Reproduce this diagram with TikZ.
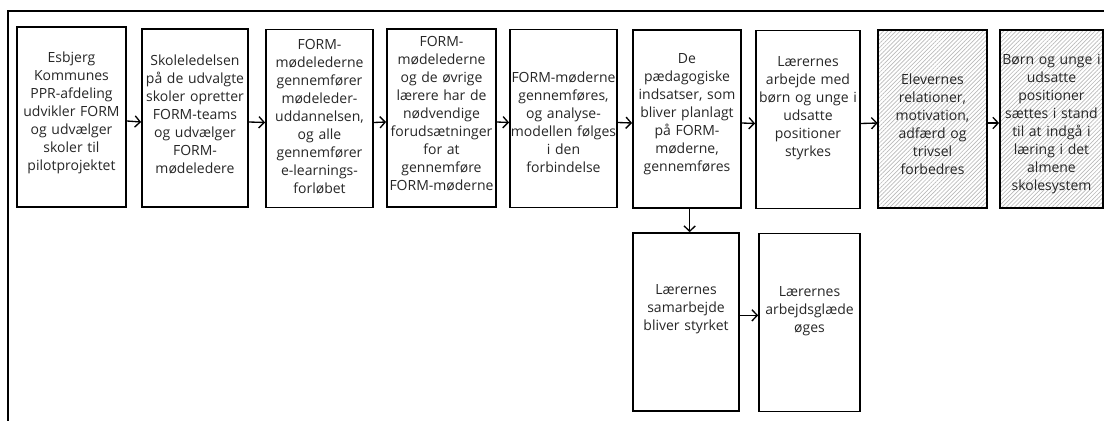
\documentclass[tikz,border=0pt]{standalone}
\usepackage{fontspec}
\setmainfont{Open Sans}
\usetikzlibrary{arrows.meta, patterns.meta}

\begin{document}
\begin{tikzpicture}[x=0.75pt, y=-0.75pt,
    stepbox/.style={draw=black, line width=1.3pt, minimum width=80.25pt,
      minimum height=133.5pt, inner sep=0pt},
    hatchbox/.style={stepbox, pattern={Lines[angle=45, distance=2.2pt, line width=0.5pt]},
      pattern color=gray!55},
    steptext/.style={text width=84pt, align=center, inner sep=0pt, text=black!85,
      font=\fontsize{10.5}{13.5}\selectfont},
    flow/.style={-{Straight Barb[length=4pt, width=8.5pt]}, line width=1pt}]

  % page size (pixels of the reference)
  \useasboundingbox (0,0) rectangle (1104,421);

  % outer frame, open to the right and at the bottom
  \draw[line width=2.2pt] (8,430) -- (8,11) -- (1115,11);

  % top row
  \node[stepbox, minimum width=81.75pt, minimum height=135pt] (b1) at (71.5,117) {};
  \node[stepbox, minimum width=79.5pt] (b2) at (195,118) {};
  \node[stepbox] (b3) at (319.5,118.5) {};
  \node[stepbox, minimum width=81.75pt] (b4) at (441.5,118) {};
  \node[stepbox] (b5) at (563.5,118.5) {};
  \node[stepbox, minimum width=81pt] (b6) at (687,119) {};
  \node[stepbox, minimum width=78pt] (b7) at (808,119.5) {};
  \node[hatchbox, minimum width=81.75pt] (b8) at (932.5,119) {};
  \node[hatchbox, minimum width=77.25pt] (b9) at (1051.5,119) {};

  % bottom row
  \node[stepbox, minimum width=79.5pt] (b10) at (686,322) {};
  \node[stepbox, minimum width=75.75pt] (b11) at (809.5,322.5) {};

  % texts
  \node[steptext] (t1) at (71.5,113) {Esbjerg\\Kommunes\\PPR-afdeling\\udvikler FORM\\og udvælger\\skoler til\\pilotprojektet};
  \node[steptext] (t2) at (195,114) {Skoleledelsen\\på de udvalgte\\skoler opretter\\FORM-teams\\og udvælger\\FORM-\\mødeledere};
  \node[steptext] (t3) at (319.5,116.5) {FORM-\\mødelederne\\gennemfører\\mødeleder-\\uddannelsen,\\og alle\\gennemfører\\e-learnings-\\forløbet};
  \node[steptext] (t4) at (441.5,113.5) {FORM-\\mødelederne\\og de øvrige\\lærere har de\\nødvendige\\forudsætninger\\for at\\gennemføre\\FORM-møderne};
  \node[steptext] (t5) at (563.5,122.5) {FORM-møderne\\gennemføres,\\og analyse-\\modellen følges\\i den\\forbindelse};
  \node[steptext] (t6) at (687,114) {De\\pædagogiske\\indsatser, som\\bliver planlagt\\på FORM-\\møderne,\\gennemføres};
  \node[steptext] (t7) at (808,108) {Lærernes\\arbejde med\\børn og unge i\\udsatte\\positioner\\styrkes};
  \node[steptext] (t8) at (932.5,124) {Elevernes\\relationer,\\motivation,\\adfærd og\\trivsel\\forbedres};
  \node[steptext] (t9) at (1051.5,124) {Børn og unge i\\udsatte\\positioner\\sættes i stand\\til at indgå i\\læring i det\\almene\\skolesystem};
  \node[steptext] (t10) at (686,309) {Lærernes\\samarbejde\\bliver styrket};
  \node[steptext] (t11) at (809.5,311) {Lærernes\\arbejdsglæde\\øges};

  % arrows along the top row
  \foreach \a/\b in {b1/b2, b2/b3, b3/b4, b4/b5, b5/b6, b6/b7, b7/b8, b8/b9}
    \draw[flow] ([yshift=-3pt]\a.east) -- ([yshift=-3pt]\b.west);

  % down to the bottom row, and along it
  \draw[flow] ([xshift=2pt]b6.south) -- ([xshift=2pt]b6.south |- b10.north);
  \draw[flow] ([yshift=5pt]b10.east) -- ([yshift=5pt]b10.east -| b11.west);
\end{tikzpicture}
\end{document}
